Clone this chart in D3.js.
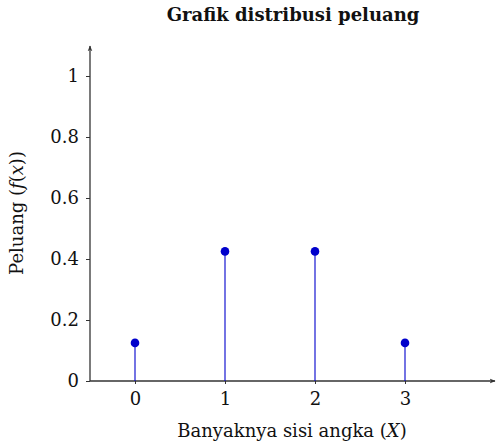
<!DOCTYPE html>
<html>
<head>
<meta charset="utf-8">
<script src="https://cdn.jsdelivr.net/npm/d3@7"></script>
<style>
  body { margin: 0; background: #fff; }
  text { font-family: "DejaVu Serif", "Liberation Serif", serif; fill: #111; }
</style>
</head>
<body>
<svg id="chart" width="496" height="448"></svg>
<script>
// data
var xs = [0, 1, 2, 3];
var probs = [0.125, 0.425, 0.425, 0.125];
var yTicks = [0, 0.2, 0.4, 0.6, 0.8, 1];
var yTickLabels = ["0", "0.2", "0.4", "0.6", "0.8", "1"];

var svg = d3.select("#chart");
var mLeft = 90, mRight = 495, mTop = 46, mBottom = 381;

var x = d3.scaleLinear().domain([-0.5, 4]).range([mLeft, mRight]);
var y = d3.scaleLinear().domain([0, 1]).range([mBottom, 76]);

var axisColor = "#333";
var blue = "#0000cc";
var fs = "18px";

// arrow heads
var defs = svg.append("defs");
defs.append("marker")
  .attr("id", "arrow")
  .attr("viewBox", "0 0 10 10")
  .attr("refX", 9).attr("refY", 5)
  .attr("markerWidth", 6).attr("markerHeight", 6)
  .attr("markerUnits", "userSpaceOnUse")
  .attr("orient", "auto")
  .append("path")
  .attr("d", "M0,1 L10,5 L0,9 L3,5 Z")
  .attr("fill", axisColor);

// y axis
var yAxis = d3.axisLeft(y)
  .tickValues(yTicks)
  .tickFormat(function(d, i){ return yTickLabels[i]; })
  .tickSize(4)
  .tickPadding(7);
var gy = svg.append("g").attr("transform", "translate(" + mLeft + ",0)").call(yAxis);
gy.select(".domain").remove();
gy.selectAll(".tick line").attr("stroke", axisColor);
gy.selectAll(".tick text").style("font-size", fs).style("font-family", "DejaVu Serif").attr("fill", "#111");

// x axis
var xAxis = d3.axisBottom(x).tickValues(xs).tickFormat(d3.format("d")).tickSize(3).tickPadding(8);
var gx = svg.append("g").attr("transform", "translate(0," + mBottom + ")").call(xAxis);
gx.select(".domain").remove();
gx.selectAll(".tick line").attr("stroke", axisColor);
gx.selectAll(".tick text").style("font-size", fs).style("font-family", "DejaVu Serif").attr("fill", "#111");

// axis lines with arrows
svg.append("line")
  .attr("x1", mLeft).attr("y1", mBottom).attr("x2", mLeft).attr("y2", mTop)
  .attr("stroke", axisColor).attr("stroke-width", 1.3)
  .attr("marker-end", "url(#arrow)");
svg.append("line")
  .attr("x1", mLeft).attr("y1", mBottom).attr("x2", mRight).attr("y2", mBottom)
  .attr("stroke", axisColor).attr("stroke-width", 1.3)
  .attr("marker-end", "url(#arrow)");

// stems
svg.selectAll(".stem")
  .data(xs)
  .enter().append("line")
  .attr("class", "stem")
  .attr("x1", function(d){ return x(d); })
  .attr("x2", function(d){ return x(d); })
  .attr("y1", y(0))
  .attr("y2", function(d, i){ return y(probs[i]); })
  .attr("stroke", blue).attr("stroke-width", 1.1);

// points
svg.selectAll(".dot")
  .data(xs)
  .enter().append("circle")
  .attr("class", "dot")
  .attr("cx", function(d){ return x(d); })
  .attr("cy", function(d, i){ return y(probs[i]); })
  .attr("r", 4.3)
  .attr("fill", blue);

// title
svg.append("text")
  .attr("x", 293).attr("y", 21)
  .attr("text-anchor", "middle")
  .style("font-size", fs).style("font-weight", "bold")
  .text("Grafik distribusi peluang");

// x label
var xl = svg.append("text")
  .attr("x", 292).attr("y", 437)
  .attr("text-anchor", "middle")
  .style("font-size", fs);
xl.append("tspan").text("Banyaknya sisi angka (");
xl.append("tspan").style("font-style", "italic").text("X");
xl.append("tspan").text(")");

// y label
var yl = svg.append("text")
  .attr("transform", "translate(23,213) rotate(-90)")
  .attr("text-anchor", "middle")
  .style("font-size", fs);
yl.append("tspan").text("Peluang (");
yl.append("tspan").style("font-style", "italic").text("f");
yl.append("tspan").text("(");
yl.append("tspan").style("font-style", "italic").text("x");
yl.append("tspan").text("))");
</script>
</body>
</html>
